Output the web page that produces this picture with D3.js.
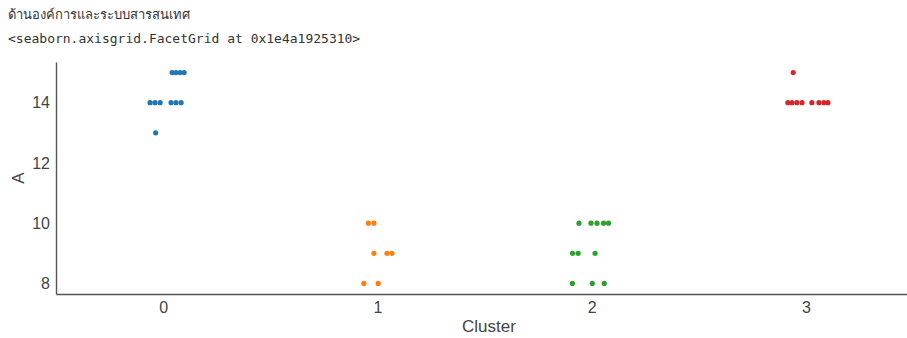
<!DOCTYPE html>
<html>
<head>
<meta charset="utf-8">
<script src="https://cdnjs.cloudflare.com/ajax/libs/d3/7.8.5/d3.min.js"></script>
<style>
  body { margin: 0; background: #fff; }
  .note { font-family: "Noto Sans", "DejaVu Sans", sans-serif; font-size: 13px; fill: #333; }
  .repr { font-family: "DejaVu Sans Mono", monospace; font-size: 13px; fill: #333; }
  .tick text { font-family: "Liberation Sans", Arial, sans-serif; font-size: 16px; fill: #444; }
  .label { font-family: "Liberation Sans", Arial, sans-serif; font-size: 17px; fill: #444; }
</style>
</head>
<body>
<svg id="chart"></svg>
<script>
// cluster labels on the x axis
var clusterNames = ["0", "1", "2", "3"];
var yTicks = [8, 10, 12, 14];

// one entry per point: cluster, value of A, jitter (in cluster units)
var pointCluster = [0,0,0,0, 0,0,0,0,0,0, 0,
                    1,1, 1,1,1, 1,1,
                    2,2,2,2,2, 2,2,2, 2,2,2,
                    3, 3,3,3,3,3,3,3,3];
var pointValue = [15,15,15,15, 14,14,14,14,14,14, 13,
                  10,10, 9,9,9, 8,8,
                  10,10,10,10,10, 9,9,9, 8,8,8,
                  15, 14,14,14,14,14,14,14,14];
var pointJitter = [0.042,0.060,0.079,0.098, -0.061,-0.038,-0.014,0.037,0.060,0.084, -0.035,
                   -0.042,-0.016, -0.016,0.045,0.068, -0.063,0.004,
                   -0.059,-0.003,0.025,0.056,0.079, -0.089,-0.063,0.016, -0.090,0.003,0.059,
                   -0.059, -0.084,-0.065,-0.042,-0.018,0.028,0.061,0.084,0.103];

var screen = { width: 907, height: 338 };
var margins = { top: 62, bottom: 44, left: 56, right: -6 };

var colors = ["#1f77b4", "#ff7f0e", "#2ca02c", "#d62728"];

var svg = d3.select("#chart")
    .attr("width", screen.width)
    .attr("height", screen.height);

svg.append("text").attr("class", "note")
    .attr("x", 8).attr("y", 19)
    .text("ด้านองค์การและระบบสารสนเทศ");
svg.append("text").attr("class", "repr")
    .attr("x", 8).attr("y", 43)
    .text("<seaborn.axisgrid.FacetGrid at 0x1e4a1925310>");

var x = d3.scaleLinear()
    .domain([-0.5, clusterNames.length - 0.5])
    .range([margins.left, screen.width - margins.right]);

var y = d3.scaleLinear()
    .domain([7.65, 15.35])
    .range([screen.height - margins.bottom, margins.top]);

var points = pointValue.map(function(v, i) {
  return { c: pointCluster[i], v: v, j: pointJitter[i] };
});

svg.append("g")
    .selectAll("circle")
    .data(points)
    .join("circle")
      .attr("cx", d => x(d.c + d.j))
      .attr("cy", d => y(d.v))
      .attr("r", 2.6)
      .attr("fill", d => colors[d.c]);

var xAxis = d3.axisBottom(x)
    .tickValues(d3.range(clusterNames.length))
    .tickFormat(d => clusterNames[d])
    .tickSize(0).tickPadding(7);

var yAxis = d3.axisLeft(y)
    .tickValues(yTicks)
    .tickSize(0).tickPadding(6);

var gx = svg.append("g")
    .attr("transform", "translate(0," + (screen.height - margins.bottom) + ")")
    .call(xAxis);
var gy = svg.append("g")
    .attr("transform", "translate(" + margins.left + ",0)")
    .call(yAxis);

[gx, gy].forEach(function(g) {
  g.select(".domain").attr("stroke", "#555").attr("stroke-width", 1.4);
});
gx.selectAll(".tick text").attr("dy", "0.75em");

svg.append("text").attr("class", "label")
    .attr("text-anchor", "middle")
    .attr("x", 489).attr("y", 332)
    .text("Cluster");

svg.append("text").attr("class", "label")
    .attr("text-anchor", "middle")
    .attr("transform", "translate(24," + y(11.5) + ") rotate(-90)")
    .text("A");
</script>
</body>
</html>
